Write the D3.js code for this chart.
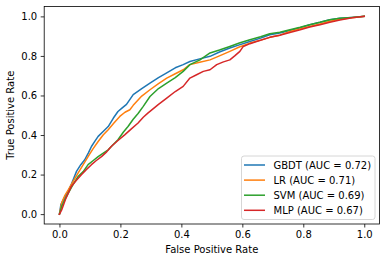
<!DOCTYPE html>
<html><head><meta charset="utf-8">
<script src="https://cdn.jsdelivr.net/npm/d3@7"></script>
<style>
html,body{margin:0;padding:0;background:#fff;}
svg{display:block;font-family:"DejaVu Sans",sans-serif;}
</style></head>
<body>
<script>
const seriesNames = ["GBDT (AUC = 0.72)", "LR (AUC = 0.71)", "SVM (AUC = 0.69)", "MLP (AUC = 0.67)"];
const seriesColors = ["#1f77b4", "#ff7f0e", "#2ca02c", "#d62728"];
const xTicks = [0.0, 0.2, 0.4, 0.6, 0.8, 1.0];
const yTicks = [0.0, 0.2, 0.4, 0.6, 0.8, 1.0];

const gbdtFpr = [0, .005, .018, .03, .04, .056, .07, .083, .095, .105, .117, .127, .145, .16, .177, .192, .205, .22, .242, .27, .297, .325, .352, .38, .406, .428, .46, .494, .525, .559, .59, .625, .66, .69, .723, .756, .79, .821, .855, .887, .92, .96, 1];
const gbdtTpr = [0, .05, .089, .12, .155, .216, .25, .275, .31, .342, .37, .393, .42, .443, .486, .519, .536, .555, .604, .635, .663, .69, .714, .74, .756, .772, .785, .798, .82, .84, .856, .873, .89, .907, .916, .929, .943, .958, .97, .983, .99, .995, 1];

const lrFpr = [0, .008, .018, .029, .045, .061, .078, .094, .11, .127, .144, .16, .178, .198, .215, .231, .242, .27, .297, .325, .352, .38, .406, .428, .46, .494, .525, .559, .59, .625, .66, .69, .723, .756, .79, .821, .855, .887, .92, .96, 1];
const lrTpr = [0, .06, .095, .123, .165, .207, .25, .291, .33, .367, .401, .427, .46, .494, .515, .528, .55, .597, .629, .66, .688, .71, .73, .756, .768, .78, .8, .823, .845, .865, .88, .894, .905, .924, .937, .949, .962, .975, .985, .993, 1];

const svmFpr = [0, .007, .018, .029, .045, .061, .078, .094, .11, .127, .145, .16, .175, .192, .21, .225, .242, .258, .275, .297, .325, .352, .38, .406, .428, .461, .494, .525, .559, .59, .625, .66, .69, .723, .756, .79, .821, .855, .887, .92, .96, 1];
const svmTpr = [0, .038, .075, .106, .15, .19, .215, .25, .27, .291, .31, .325, .35, .376, .415, .443, .48, .509, .545, .595, .635, .663, .69, .722, .756, .78, .815, .83, .848, .865, .882, .897, .912, .92, .932, .945, .958, .97, .983, .99, .995, 1];

const mlpFpr = [0, .007, .02, .039, .055, .072, .088, .105, .12, .138, .155, .17, .19, .214, .235, .258, .275, .29, .325, .352, .38, .406, .428, .45, .472, .494, .516, .538, .559, .575, .592, .603, .625, .647, .69, .723, .756, .79, .821, .855, .887, .92, .96, 1];
const mlpTpr = [0, .02, .075, .14, .17, .199, .225, .25, .27, .291, .315, .342, .37, .401, .43, .461, .49, .511, .555, .587, .62, .646, .688, .705, .722, .73, .756, .77, .78, .8, .823, .848, .862, .873, .894, .905, .919, .932, .946, .958, .97, .982, .993, 1];

const fprs = [gbdtFpr, lrFpr, svmFpr, mlpFpr];
const tprs = [gbdtTpr, lrTpr, svmTpr, mlpTpr];

const W = 386, H = 262;
const svg = d3.select("body").append("svg").attr("width", W).attr("height", H);

const pLeft = 44.2, pRight = 379.5, pTop = 6.5, pBottom = 224;
const x = d3.scaleLinear().domain([-0.05, 1.05]).range([pLeft, pRight]);
const y = d3.scaleLinear().domain([-0.05, 1.05]).range([pBottom, pTop]);

const line = d3.line().x(d => x(d[0])).y(d => y(d[1]));
fprs.forEach((f, i) => {
  const pts = f.map((v, j) => [v, tprs[i][j]]);
  svg.append("path").datum(pts).attr("d", line)
    .attr("fill", "none").attr("stroke", seriesColors[i])
    .attr("stroke-width", 1.5).attr("stroke-linejoin", "round").attr("stroke-linecap", "square");
});

// axes
const xAxis = d3.axisBottom(x).tickValues(xTicks).tickFormat(d3.format(".1f")).tickSizeInner(3.5).tickSizeOuter(0).tickPadding(3.5);
const yAxis = d3.axisLeft(y).tickValues(yTicks).tickFormat(d3.format(".1f")).tickSizeInner(3.5).tickSizeOuter(0).tickPadding(3.5);
const gx = svg.append("g").attr("transform", `translate(0,${pBottom})`).call(xAxis);
const gy = svg.append("g").attr("transform", `translate(${pLeft},0)`).call(yAxis);
[gx, gy].forEach(g => {
  g.select(".domain").remove();
  g.selectAll(".tick line").attr("stroke", "#000").attr("stroke-width", 0.8);
  g.selectAll(".tick text").attr("font-size", 10).attr("fill", "#000").attr("font-family", "DejaVu Sans");
});

// frame
svg.append("rect").attr("x", pLeft).attr("y", pTop).attr("width", pRight - pLeft).attr("height", pBottom - pTop)
  .attr("fill", "none").attr("stroke", "#000").attr("stroke-width", 0.8);

// labels
svg.append("text").attr("x", (pLeft + pRight) / 2).attr("y", 252.5).attr("text-anchor", "middle")
  .attr("font-size", 10).attr("fill", "#000").text("False Positive Rate");
svg.append("text").attr("transform", `translate(14,${(pTop + pBottom) / 2}) rotate(-90)`).attr("text-anchor", "middle")
  .attr("font-size", 10).attr("fill", "#000").text("True Positive Rate");

// legend
const lg = svg.append("g");
const lx = 241.5, ly = 156, lw = 133.5, lh = 63.5;
lg.append("rect").attr("x", lx).attr("y", ly).attr("width", lw).attr("height", lh).attr("rx", 2.5)
  .attr("fill", "#fff").attr("fill-opacity", 0.8).attr("stroke", "#cccccc").attr("stroke-width", 0.8);
seriesNames.forEach((n, i) => {
  const yy = 165 + i * 15.1;
  lg.append("line").attr("x1", lx + 2.5).attr("x2", lx + 23.5).attr("y1", yy).attr("y2", yy)
    .attr("stroke", seriesColors[i]).attr("stroke-width", 1.5);
  lg.append("text").attr("x", lx + 32).attr("y", yy + 3.6).attr("font-size", 10).attr("fill", "#000").text(n);
});
</script>
</body></html>
